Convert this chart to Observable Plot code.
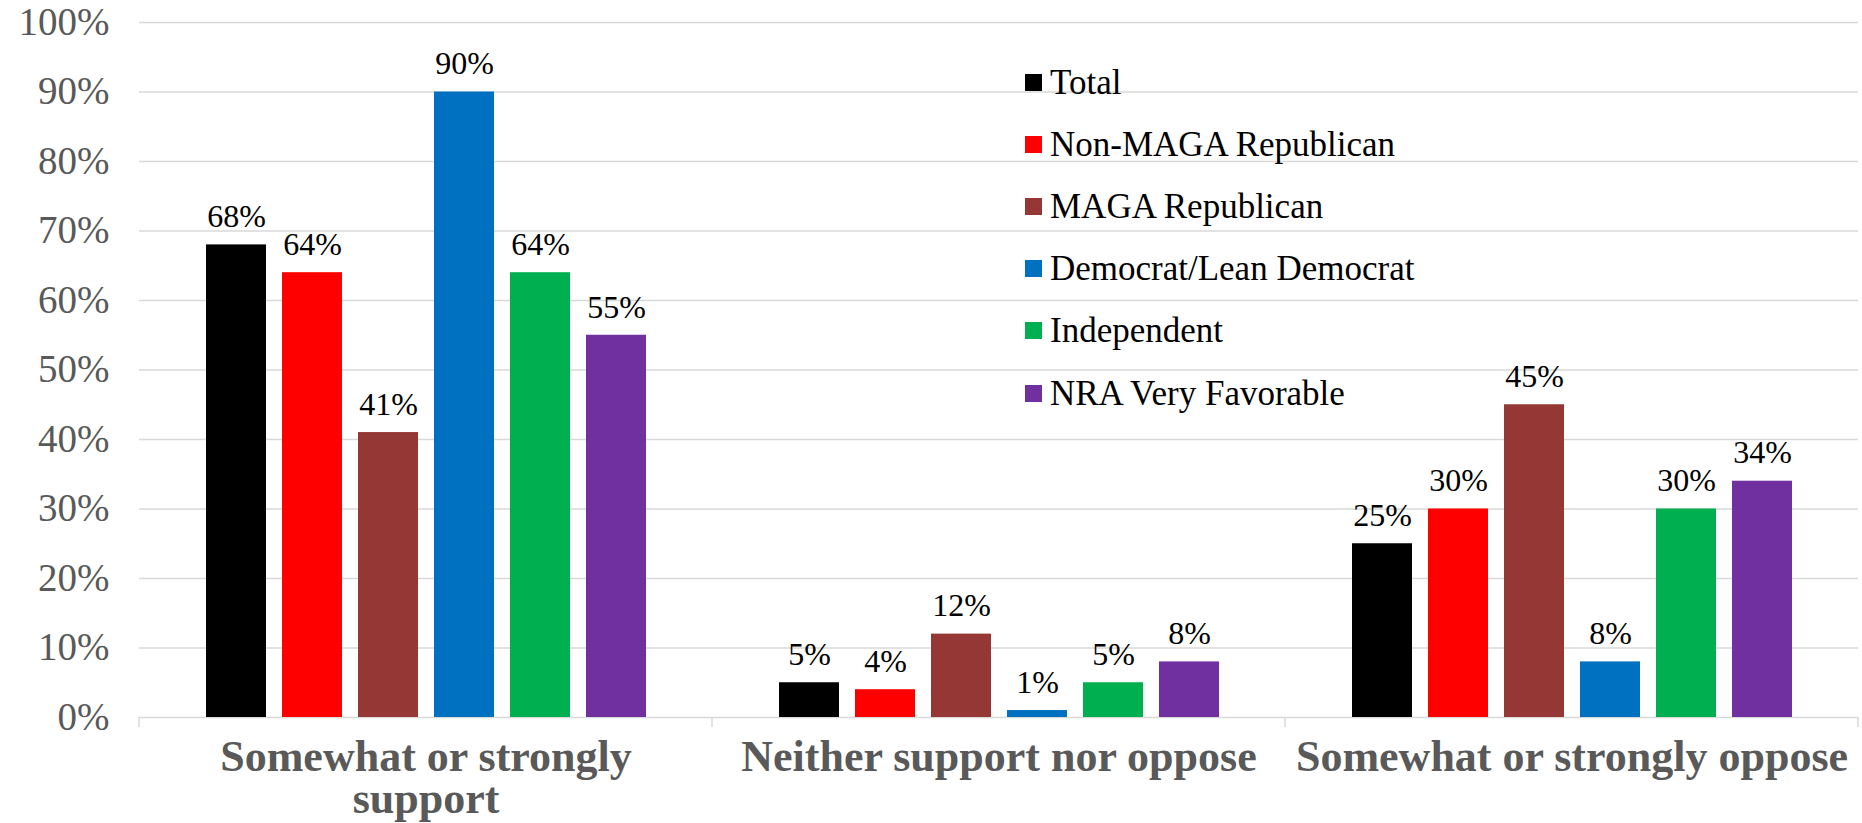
<!DOCTYPE html>
<html>
<head>
<meta charset="utf-8">
<script src="https://cdn.jsdelivr.net/npm/d3@7"></script>
<script src="https://cdn.jsdelivr.net/npm/@observablehq/plot@0.6"></script>
<style>
  body { margin: 0; background: #fff; }
  #wrap { position: relative; width: 1862px; height: 823px; font-family: 'Liberation Serif', serif; }
  #legend { position: absolute; left: 0; top: 0; }
  .item { position: absolute; display: flex; align-items: center; white-space: nowrap; font-family: 'Liberation Serif', serif; font-size: 35px; color: #000; line-height: 1; }
  .sw { width: 17px; height: 17px; margin-right: 8px; }
</style>
</head>
<body>
<div id="wrap"><div id="legend"></div></div>
<script>
// ---- data ----
const categories = ["Somewhat or strongly support", "Neither support nor oppose", "Somewhat or strongly oppose"];
const categoryLabels = ["Somewhat or strongly\nsupport", "Neither support nor oppose", "Somewhat or strongly oppose"];
const groups = ["Total", "Non-MAGA Republican", "MAGA Republican", "Democrat/Lean Democrat", "Independent", "NRA Very Favorable"];
const colors = ["#000000", "#FF0000", "#953735", "#0070C0", "#00B050", "#7030A0"];
const supportValues = [68, 64, 41, 90, 64, 55];
const neitherValues = [5, 4, 12, 1, 5, 8];
const opposeValues = [25, 30, 45, 8, 30, 34];
const yTicks = [0, 10, 20, 30, 40, 50, 60, 70, 80, 90, 100];

const seriesByCategory = [supportValues, neitherValues, opposeValues];
const data = [];
categories.forEach((c, ci) => groups.forEach((g, gi) => data.push({category: c, group: g, value: seriesByCategory[ci][gi]})));

const labelOf = Object.fromEntries(categories.map((c, i) => [c, categoryLabels[i]]));
const FONT = "'Liberation Serif', serif";

const plot = Plot.plot({
  width: 1862,
  height: 823,
  marginLeft: 139,
  marginRight: 4,
  marginTop: 22,
  marginBottom: 106,
  style: { background: "#fff" },
  fx: { domain: categories, padding: 0 },
  x: { domain: groups, paddingInner: 0.216, paddingOuter: 0.873, axis: null },
  y: { domain: [0, 100] },
  color: { domain: groups, range: colors },
  marks: [
    Plot.ruleY(yTicks, { stroke: "#d9d9d9", strokeWidth: 1.5 }),
    Plot.barY(data, { fx: "category", x: "group", y: "value", fill: "group" }),
    Plot.text(data, { fx: "category", x: "group", y: "value", text: d => d.value + "%", dy: -28, fontSize: 32, fill: "#000", lineAnchor: "middle" }),
    Plot.axisY(yTicks, { tickSize: 0, tickPadding: 30, tickFormat: d => d + "%", fontSize: 39, fill: "#595959", label: null }),
    Plot.axisFx({ anchor: "bottom", tickSize: 0, tickPadding: 24, tickFormat: d => labelOf[d], fontSize: 44, fontWeight: "bold", fill: "#595959", lineHeight: 0.95, label: null })
  ]
});

// force the serif face on every SVG text
d3.select(plot).selectAll("text").style("font-family", FONT);
d3.select(plot).selectAll("g").style("font-family", FONT);

document.getElementById("wrap").prepend(plot);

// category boundary ticks below the baseline
const fxs = plot.scale("fx");
const ys = plot.scale("y");
const [r0, r1] = fxs.range;
const n = fxs.domain.length;
const y0 = ys.apply(0);
const g = d3.select(plot).append("g");
for (let i = 0; i <= n; i++) {
  const x = r0 + (r1 - r0) * i / n;
  g.append("line").attr("x1", x).attr("x2", x).attr("y1", y0).attr("y2", y0 + 10)
    .attr("stroke", "#d9d9d9").attr("stroke-width", 1.5);
}

// legend
const legend = document.getElementById("legend");
groups.forEach((grp, i) => {
  const item = document.createElement("div");
  item.className = "item";
  item.style.left = "1025px";
  item.style.top = (82 + i * 62.2 - 17) + "px";
  item.style.height = "34px";
  const sw = document.createElement("span");
  sw.className = "sw";
  sw.style.background = colors[i];
  item.appendChild(sw);
  item.appendChild(document.createTextNode(grp));
  legend.appendChild(item);
});
</script>
</body>
</html>
